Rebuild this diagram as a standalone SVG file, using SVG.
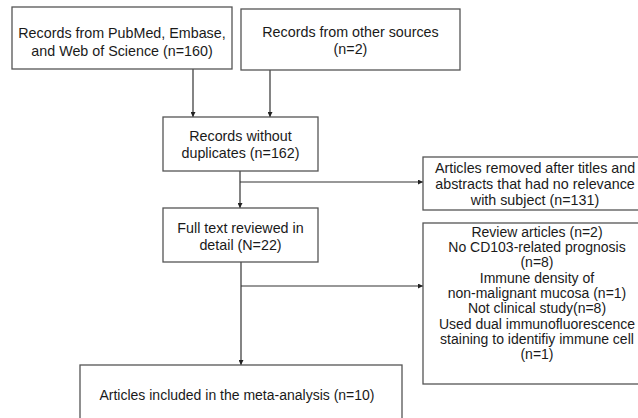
<svg xmlns="http://www.w3.org/2000/svg" width="638" height="418" viewBox="0 0 638 418">
<defs>
<marker id="arr" viewBox="0 0 10 10" refX="10" refY="5" markerWidth="5" markerHeight="5" orient="auto" markerUnits="userSpaceOnUse">
<path d="M0,0 L10,5 L0,10 z" fill="#222"/>
</marker>
<style>
.box{fill:#fff;stroke:#555;stroke-width:1.3}
.t{font-family:"Liberation Sans",Arial,sans-serif;font-size:14.3px;fill:#1a1a1a;text-anchor:middle}
.s{font-size:14px}
.c{fill:none;stroke:#333;stroke-width:1.2}
</style>
</defs>
<rect width="638" height="418" fill="#fff"/>
<g id="connectors">
<path class="c" d="M193,69 V117" marker-end="url(#arr)"/>
<path class="c" d="M270,70 V117" marker-end="url(#arr)"/>
<path class="c" d="M240,171 V208" marker-end="url(#arr)"/>
<path class="c" d="M240,182 H423" marker-end="url(#arr)"/>
<path class="c" d="M241,262 V365" marker-end="url(#arr)"/>
<path class="c" d="M241,286 H423" marker-end="url(#arr)"/>
</g>
<g id="n1">
<rect class="box" x="12" y="7" width="220" height="62"/>
<text class="t" x="122" y="38">Records from PubMed, Embase,</text>
<text class="t" x="122" y="56">and Web of Science (n=160)</text>
</g>
<g id="n2">
<rect class="box" x="241" y="9" width="219" height="61"/>
<text class="t" x="350.5" y="37">Records from other sources</text>
<text class="t" x="350.5" y="54">(n=2)</text>
</g>
<g id="n3">
<rect class="box" x="163" y="117" width="155" height="54"/>
<text class="t" x="240.5" y="141">Records without</text>
<text class="t" x="240.5" y="158">duplicates (n=162)</text>
</g>
<g id="n4">
<rect class="box" x="163" y="208" width="155" height="54"/>
<text class="t" x="240.5" y="233">Full text reviewed in</text>
<text class="t" x="240.5" y="250">detail (N=22)</text>
</g>
<g id="n5">
<rect class="box" x="423" y="157" width="224" height="53"/>
<text class="t" x="535" y="173">Articles removed after titles and</text>
<text class="t" x="535" y="189">abstracts that had no relevance</text>
<text class="t" x="535" y="205">with subject (n=131)</text>
</g>
<g id="n6">
<rect class="box" x="423" y="223" width="228" height="161"/>
<text class="t s" x="537" y="237">Review articles (n=2)</text>
<text class="t s" x="537" y="252">No CD103-related prognosis</text>
<text class="t s" x="537" y="267">(n=8)</text>
<text class="t s" x="537" y="283">Immune density of</text>
<text class="t s" x="537" y="298">non-malignant mucosa (n=1)</text>
<text class="t s" x="537" y="313">Not clinical study(n=8)</text>
<text class="t s" x="537" y="329">Used dual immunofluorescence</text>
<text class="t s" x="537" y="344">staining to identifiy immune cell</text>
<text class="t s" x="537" y="359">(n=1)</text>
</g>
<g id="n7">
<rect class="box" x="80" y="365" width="322" height="60"/>
<text class="t s" x="237" y="400">Articles included in the meta-analysis (n=10)</text>
</g>
</svg>
